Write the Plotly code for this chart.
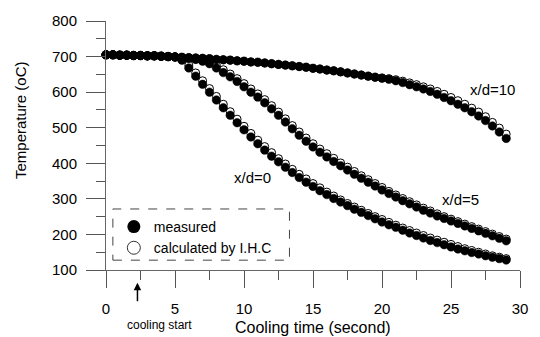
import plotly.graph_objects as go

# Cooling time (s)
time_s = [0, 0.5, 1, 1.5, 2, 2.5, 3, 3.5, 4, 4.5, 5, 5.5, 6, 6.5, 7, 7.5, 8, 8.5, 9, 9.5,
          10, 10.5, 11, 11.5, 12, 12.5, 13, 13.5, 14, 14.5, 15, 15.5, 16, 16.5, 17, 17.5,
          18, 18.5, 19, 19.5, 20, 20.5, 21, 21.5, 22, 22.5, 23, 23.5, 24, 24.5, 25, 25.5,
          26, 26.5, 27, 27.5, 28, 28.5, 29]

# x/d = 0
meas_0 = [705, 705, 704, 704, 703, 703, 702, 702, 701, 700, 699, 690, 668, 645, 622, 600,
          578, 556, 535, 514, 494, 474, 455, 437, 420, 404, 389, 374, 360, 347, 335, 323,
          312, 301, 291, 281, 271, 262, 253, 244, 235, 227, 220, 212, 204, 197, 190, 183,
          177, 171, 165, 159, 154, 149, 145, 140, 136, 132, 128]
calc_0 = [705, 705, 704, 704, 703, 703, 702, 702, 701, 700, 699, 694, 676, 654, 632, 610,
          588, 566, 545, 524, 504, 484, 465, 447, 430, 413, 398, 383, 369, 356, 343, 331,
          319, 308, 297, 287, 277, 268, 259, 250, 242, 234, 226, 218, 211, 204, 197, 190,
          184, 178, 172, 166, 160, 155, 150, 145, 140, 136, 132]

# x/d = 5
meas_5 = [705, 705, 704, 704, 703, 703, 702, 702, 701, 700, 699, 697, 695, 692, 687, 680,
          668, 655, 643, 630, 615, 600, 586, 570, 553, 535, 516, 497, 479, 462, 446, 431,
          418, 405, 393, 381, 369, 358, 347, 336, 325, 315, 305, 295, 286, 277, 268, 260,
          252, 245, 238, 231, 224, 217, 210, 203, 196, 189, 182]
calc_5 = [705, 705, 704, 704, 703, 703, 702, 702, 701, 700, 699, 697, 695, 693, 689, 684,
          675, 663, 651, 638, 624, 609, 595, 579, 562, 544, 525, 506, 488, 471, 455, 440,
          427, 414, 401, 389, 377, 365, 354, 343, 332, 321, 311, 301, 292, 283, 274, 266,
          258, 250, 243, 236, 229, 222, 215, 208, 201, 194, 187]

# x/d = 10
meas_10 = [705, 705, 704, 704, 703, 703, 702, 702, 701, 700, 699, 698, 697, 696, 695, 694,
           692, 691, 690, 688, 687, 685, 684, 682, 680, 678, 676, 674, 672, 670, 667, 665,
           662, 660, 657, 654, 651, 648, 645, 642, 639, 636, 632, 627, 621, 615, 609, 602,
           594, 585, 576, 566, 556, 545, 533, 520, 505, 488, 470]
calc_10 = [705, 705, 704, 704, 703, 703, 702, 702, 701, 700, 699, 698, 697, 696, 695, 694,
           692, 691, 690, 688, 687, 685, 684, 682, 680, 678, 676, 674, 672, 670, 667, 665,
           662, 660, 657, 654, 651, 648, 645, 642, 640, 638, 635, 631, 626, 621, 615, 609,
           602, 594, 585, 576, 566, 555, 544, 531, 515, 499, 482]

curve_labels = ["x/d=0", "x/d=5", "x/d=10"]
label_t = [10.6, 25.7, 28.0]
label_T = [360, 297, 608]

FONT = "Liberation Sans, Arial, sans-serif"
fig = go.Figure()

meas_list = [meas_0, meas_5, meas_10]
calc_list = [calc_0, calc_5, calc_10]

# calculated (open) first, measured (filled) drawn on top
for c in calc_list:
    fig.add_trace(go.Scatter(
        x=time_s, y=c, mode="markers", showlegend=False,
        marker=dict(symbol="circle", size=8, color="white",
                    line=dict(color="black", width=1)),
        cliponaxis=False))
for m in meas_list:
    fig.add_trace(go.Scatter(
        x=time_s, y=m, mode="markers", showlegend=False,
        marker=dict(symbol="circle", size=8.5, color="black",
                    line=dict(color="black", width=0.5)),
        cliponaxis=False))

# legend-only entries
fig.add_trace(go.Scatter(x=[None], y=[None], mode="markers", name="measured",
                         marker=dict(symbol="circle", size=13, color="black")))
fig.add_trace(go.Scatter(x=[None], y=[None], mode="markers", name="calculated by I.H.C",
                         marker=dict(symbol="circle", size=13, color="white",
                                     line=dict(color="#333", width=1))))

for txt, tx, ty in zip(curve_labels, label_t, label_T):
    fig.add_annotation(x=tx, y=ty, xref="x", yref="y", text=txt, showarrow=False,
                       font=dict(family=FONT, size=15, color="black"))

# axis titles
fig.add_annotation(x=0.5, y=(270 - 328) / 253, xref="paper", yref="paper",
                   xanchor="center", yanchor="middle",
                   text="Cooling time (second)", showarrow=False,
                   font=dict(family=FONT, size=16, color="black"))
fig.add_annotation(xref="paper", yref="paper", x=(19 - 106) / 422, y=(270 - 118) / 253,
                   xanchor="center", yanchor="middle",
                   text="Temperature (oC)", textangle=-90, showarrow=False,
                   font=dict(family=FONT, size=15, color="black"))

# cooling start
fig.add_annotation(x=2.28, y=(270 - 283) / 253, xref="x", yref="paper", text="", showarrow=True,
                   ax=0, ay=20, arrowhead=2, arrowsize=1, arrowwidth=1.5, arrowcolor="black")
fig.add_annotation(x=3.85, y=(270 - 326) / 253, xref="x", yref="paper", text="cooling start",
                   xanchor="center", yanchor="middle",
                   showarrow=False, font=dict(family=FONT, size=12, color="black"))

# dashed legend box
fig.add_shape(type="rect", xref="paper", yref="paper",
              x0=(113 - 106) / 422, x1=(293 - 106) / 422,
              y0=(270 - 260) / 253, y1=(270 - 208) / 253,
              line=dict(color="#444", width=1, dash="dash"), fillcolor="white", layer="below")

fig.update_layout(
    width=540, height=337,
    margin=dict(l=106, r=12, t=17, b=67),
    paper_bgcolor="white", plot_bgcolor="white",
    showlegend=True,
    legend=dict(x=(114 - 106) / 422, y=(270 - 210) / 253, xanchor="left", yanchor="top",
                bgcolor="rgba(0,0,0,0)", borderwidth=0,
                font=dict(family=FONT, size=14, color="black"),
                itemsizing="trace", tracegroupgap=0),
    font=dict(family=FONT, color="black"),
)

fig.update_xaxes(range=[0, 30], dtick=5, tick0=0, showgrid=False, zeroline=False,
                 showline=True, linecolor="#666", linewidth=1,
                 ticks="outside", ticklen=17, tickcolor="#555", tickwidth=1,
                 ticklabelstandoff=8,
                 minor=dict(dtick=2.5, ticks="outside", ticklen=9, tickcolor="#555", showgrid=False),
                 tickfont=dict(family=FONT, size=15, color="black"))
fig.update_yaxes(range=[100, 800], dtick=100, tick0=0, showgrid=False, zeroline=False,
                 showline=True, linecolor="#666", linewidth=1,
                 ticks="outside", ticklen=19, tickcolor="#555", tickwidth=1,
                 ticklabelstandoff=6,
                 minor=dict(dtick=50, ticks="outside", ticklen=9, tickcolor="#555", showgrid=False),
                 tickfont=dict(family=FONT, size=15, color="black"))

fig.write_html("out.html")
